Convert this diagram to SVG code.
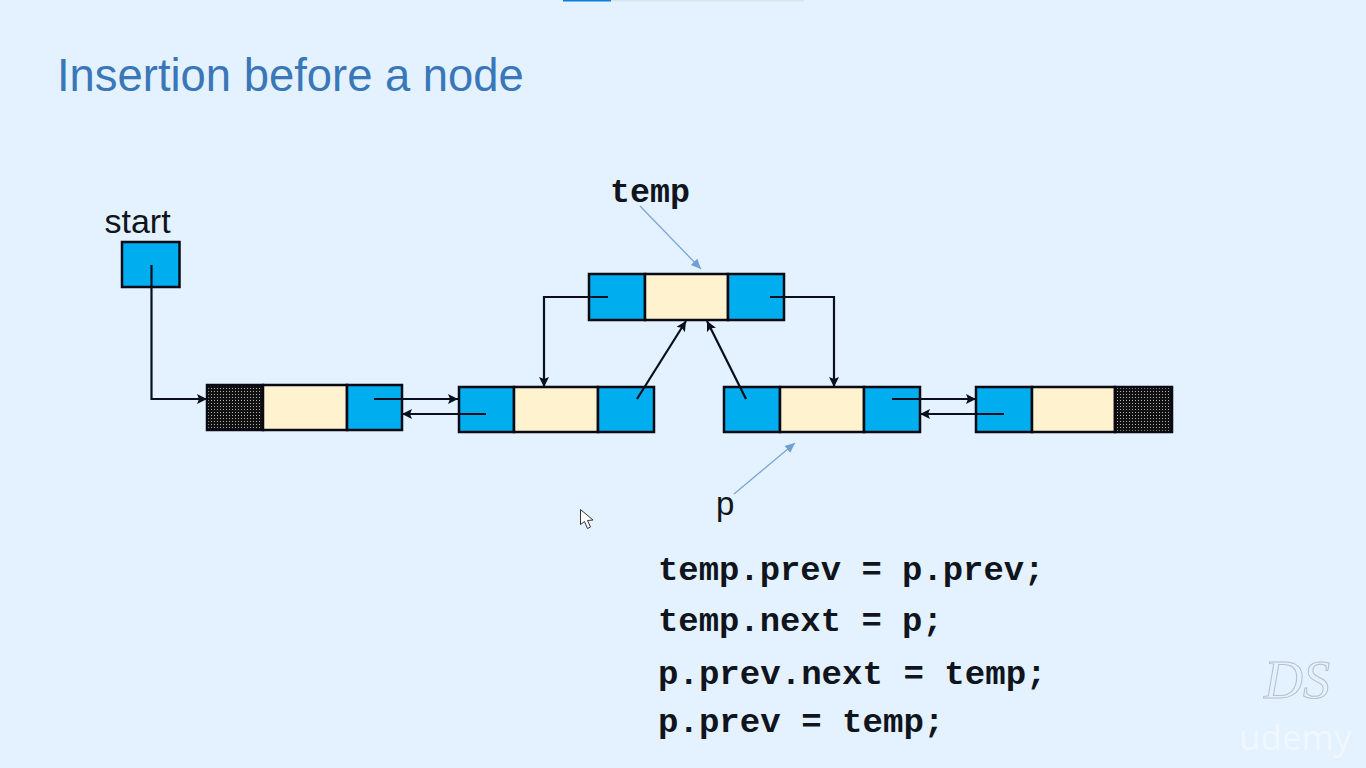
<svg xmlns="http://www.w3.org/2000/svg" width="1366" height="768" viewBox="0 0 1366 768">
<style>
.b{fill:#00AEEF;stroke:#0a0a14;stroke-width:2.5}
.c{fill:#FFF2CF;stroke:#0a0a14;stroke-width:2.5}
.h{fill:url(#dots);stroke:#0a0a14;stroke-width:2.5}
.l{fill:none;stroke:#0a0f1e;stroke-width:2.2;marker-end:url(#ah)}
.p{fill:none;stroke:#7BA6D6;stroke-width:1.3;marker-end:url(#bh)}
.s{font-family:"Liberation Sans",Arial,sans-serif;fill:#10141c}
.m{font-family:"Liberation Mono","Courier New",monospace;font-weight:bold;font-size:33.9px;fill:#10141c}
</style>
<defs>
<marker id="ah" markerUnits="userSpaceOnUse" markerWidth="12" markerHeight="12" refX="10" refY="5" orient="auto"><path d="M0 0L10 5L0 10L2 5Z" fill="#0a0f1e"/></marker>
<marker id="bh" markerUnits="userSpaceOnUse" markerWidth="12" markerHeight="12" refX="10" refY="4.500" orient="auto"><path d="M0 0L10 4.500L0 9Z" fill="#6F9FD4"/></marker>
<pattern id="dots" width="3" height="3" patternUnits="userSpaceOnUse"><rect width="3" height="3" fill="#111"/><rect x="1" y="1" width="1" height="1" fill="#b0b0b0"/></pattern>
</defs>
<rect width="1366" height="768" fill="#E4F2FF"/>
<rect x="563" y="0" width="48" height="1.5" fill="#0A7FE0"/>
<rect x="611" y="0" width="193" height="1.5" fill="#DDE3EA"/>
<text x="57" y="91" font-family="'Liberation Sans',Arial,sans-serif" font-size="45.4" fill="#3A77B8">Insertion before a node</text>
<g id="start-node"><text class="s" x="104.500" y="233" font-size="34">start</text><rect class="b" x="122" y="242" width="57.500" height="45"/></g>
<g id="node-1"><rect class="h" x="207" y="385" width="56" height="45"/><rect class="c" x="263" y="385" width="84" height="45"/><rect class="b" x="347" y="385" width="55" height="45"/></g>
<g id="node-2"><rect class="b" x="459" y="387" width="55" height="45"/><rect class="c" x="514" y="387" width="84" height="45"/><rect class="b" x="598" y="387" width="56" height="45"/></g>
<g id="node-temp"><text class="m" x="610" y="202" style="font-size:33.300px">temp</text><rect class="b" x="589" y="274" width="56" height="46"/><rect class="c" x="645" y="274" width="83" height="46"/><rect class="b" x="728" y="274" width="56" height="46"/></g>
<g id="node-3"><rect class="b" x="724" y="387" width="56" height="45"/><rect class="c" x="780" y="387" width="84" height="45"/><rect class="b" x="864" y="387" width="56" height="45"/><text class="s" x="716" y="515" font-size="33">p</text></g>
<g id="node-4"><rect class="b" x="976" y="387" width="56" height="45"/><rect class="c" x="1032" y="387" width="83" height="45"/><rect class="h" x="1115" y="387" width="57" height="45"/></g>
<g id="connectors">
<path class="l" d="M151.500 265V399H207"/>
<path class="l" d="M374 399H458"/>
<path class="l" d="M486 414H402"/>
<path class="l" d="M608 297H544V387"/>
<path class="l" d="M770 297H834V387"/>
<path class="l" d="M637 399L686 321"/>
<path class="l" d="M746 399L707 321"/>
<path class="l" d="M892 399H976"/>
<path class="l" d="M1004 414H920"/>
<path class="p" d="M640 206L701 269"/>
<path class="p" d="M734 494L795 443"/>
</g>
<g id="code">
<text class="m" x="658" y="580">temp.prev = p.prev;</text>
<text class="m" x="658" y="631">temp.next = p;</text>
<text class="m" x="658" y="684" style="font-size:34.100px">p.prev.next = temp;</text>
<text class="m" x="658" y="732" style="font-size:34.100px">p.prev = temp;</text>
</g>
<path d="M580.500 509.500V524.500L584.500 521.500L587.500 528.500L590.500 527L587.500 520.500L593 520Z" fill="#fff" stroke="#333" stroke-width="1"/>
<text x="1264" y="698" font-family="'Liberation Serif',serif" font-style="italic" font-size="54" fill="#E4F2FF" stroke="#B4C0CC" stroke-width="1">DS</text>
<text x="1239" y="750" font-family="'Open Sans','Liberation Sans',sans-serif" font-size="35" fill="#EFF7FF">udemy</text>
</svg>
